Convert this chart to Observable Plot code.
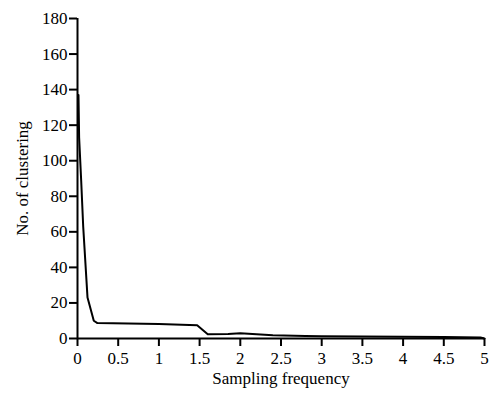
<!DOCTYPE html>
<html>
<head>
<meta charset="utf-8">
<script src="https://cdn.jsdelivr.net/npm/d3@7"></script>
<script src="https://cdn.jsdelivr.net/npm/@observablehq/plot@0.6"></script>
<style>
  html, body { margin: 0; padding: 0; background: #fff; }
</style>
</head>
<body>
<div id="chart"></div>
<script>
const freq = [0.012, 0.02, 0.045, 0.07, 0.123, 0.2, 0.245, 1.0, 1.47, 1.6, 1.85, 2.0, 2.4, 2.8, 3.0, 4.0, 4.5, 4.95, 5.0];
const clusters = [137, 113, 89, 63, 23, 10, 8.7, 8.2, 7.4, 2.4, 2.6, 2.9, 1.8, 1.4, 1.2, 1.0, 0.8, 0.6, 0];
const xTicks = [0, 0.5, 1, 1.5, 2, 2.5, 3, 3.5, 4, 4.5, 5];
const yTicks = [0, 20, 40, 60, 80, 100, 120, 140, 160, 180];
const xLabel = "Sampling frequency";
const yLabel = "No. of clustering";

const data = freq.map((f, i) => ({f, c: clusters[i]}));
const FAM = "Liberation Serif";

const chart = Plot.plot({
  width: 495,
  height: 394,
  marginLeft: 77,
  marginRight: 11,
  marginTop: 18,
  marginBottom: 56,
  x: {domain: [0, 5]},
  y: {domain: [0, 180]},
  marks: [
    Plot.axisX({ticks: xTicks, tickSize: 8, strokeWidth: 2, stroke: "#000", text: null, label: null}),
    Plot.axisY({ticks: yTicks, tickSize: 8, strokeWidth: 2, stroke: "#000", text: null, label: null}),
    Plot.text(xTicks, {x: d => d, y: 0, dy: 20, text: d => String(d), fontFamily: FAM, fontSize: 17, fill: "#000"}),
    Plot.text(yTicks, {x: 0, y: d => d, dx: -10, text: d => String(d), textAnchor: "end", fontFamily: FAM, fontSize: 17, fill: "#000"}),
    Plot.text([xLabel], {frameAnchor: "bottom", dy: 45, text: d => d, textAnchor: "middle", fontFamily: FAM, fontSize: 17, fill: "#000"}),
    Plot.text([yLabel], {frameAnchor: "left", dx: -55, rotate: -90, text: d => d, textAnchor: "middle", fontFamily: FAM, fontSize: 17, fill: "#000"}),
    Plot.ruleX([0], {strokeWidth: 2}),
    Plot.ruleY([0], {strokeWidth: 2}),
    Plot.line(data, {x: "f", y: "c", stroke: "#000", strokeWidth: 2})
  ]
});
document.getElementById("chart").appendChild(chart);
</script>
</body>
</html>
